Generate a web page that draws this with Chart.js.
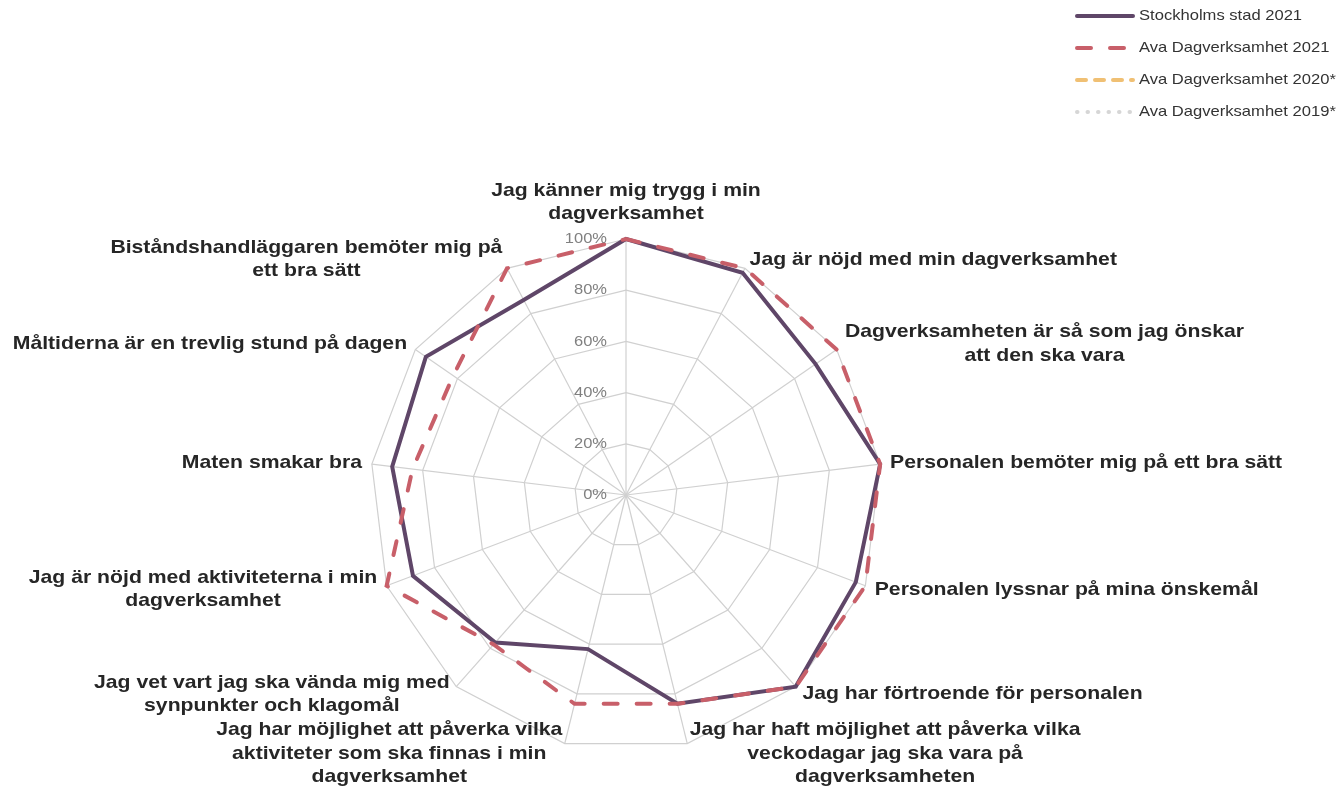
<!DOCTYPE html>
<html>
<head>
<meta charset="utf-8">
<script src="https://cdn.jsdelivr.net/npm/chart.js@4"></script>
<style>
  html, body { margin: 0; padding: 0; background: #fff; }
  #wrap { width: 1343px; height: 789px; position: relative; }
</style>
</head>
<body>
<div id="wrap"><canvas id="chart"></canvas></div>
<script>
// Categories (clockwise from the top), already wrapped as in the original
const categories = [
  ['Jag känner mig trygg i min', 'dagverksamhet'],
  ['Jag är nöjd med min dagverksamhet'],
  ['Dagverksamheten är så som jag önskar', 'att den ska vara'],
  ['Personalen bemöter mig på ett bra sätt'],
  ['Personalen lyssnar på mina önskemål'],
  ['Jag har förtroende för personalen'],
  ['Jag har haft möjlighet att påverka vilka', 'veckodagar jag ska vara på', 'dagverksamheten'],
  ['Jag har möjlighet att påverka vilka', 'aktiviteter som ska finnas i min', 'dagverksamhet'],
  ['Jag vet vart jag ska vända mig med', 'synpunkter och klagomål'],
  ['Jag är nöjd med aktiviteterna i min', 'dagverksamhet'],
  ['Maten smakar bra'],
  ['Måltiderna är en trevlig stund på dagen'],
  ['Biståndshandläggaren bemöter mig på', 'ett bra sätt']
];

// Share of positive answers, percent
const stockholm2021 = [100, 98, 90, 100, 96, 100, 84, 62, 77, 89, 92, 95, 86];
const ava2021 = [100, 100, 100, 100, 100, 100, 84, 84, 78, 100, 84, 82, 100];
// no results shown for these years
const ava2020 = [null, null, null, null, null, null, null, null, null, null, null, null, null];
const ava2019 = [null, null, null, null, null, null, null, null, null, null, null, null, null];

const tickMin = 0;
const tickMax = 100;
const tickStep = 20;

const FONT = "'Liberation Sans', Arial, sans-serif";

// the original text is a little wider than Arial, so stretch it sideways
function wideText(ctx, s, x, y, sx) {
  ctx.save();
  ctx.translate(x, y);
  ctx.scale(sx, 1);
  ctx.fillText(s, 0, 0);
  ctx.restore();
}

// Tick labels, wrapped point labels and the legend are painted here
const textPlugin = {
  id: 'texts',
  afterDraw(chart) {
    const ctx = chart.ctx;
    const r = chart.scales.r;
    ctx.save();

    // tick labels, left of the vertical axis
    ctx.font = '15px ' + FONT;
    ctx.fillStyle = '#808080';
    ctx.textAlign = 'right';
    ctx.textBaseline = 'middle';
    r.ticks.forEach(t => {
      const d = r.getDistanceFromCenterForValue(t.value);
      wideText(ctx, t.label, r.xCenter - 19, r.yCenter - d, 1.1);
    });

    // point labels
    const sx = 1.115;
    ctx.font = 'bold 19px ' + FONT;
    ctx.fillStyle = '#262626';
    ctx.textAlign = 'center';
    const lh = 23.5;
    chart.data.labels.forEach((lines, i) => {
      const p = r.getPointPosition(i, r.drawingArea + 10);
      const n = lines.length;
      const w = Math.max(...lines.map(s => ctx.measureText(s).width)) * sx;
      let cx, cy;
      if (Math.abs(p.x - r.xCenter) < 2) {
        cx = p.x;
        cy = p.y - 15 - (n - 1) * lh / 2;
      } else {
        cy = p.y;
        cx = p.x > r.xCenter ? p.x + w / 2 : p.x - w / 2;
      }
      lines.forEach((s, j) => {
        wideText(ctx, s, cx, cy + (j - (n - 1) / 2) * lh, sx);
      });
    });

    // legend
    ctx.font = '15px ' + FONT;
    ctx.fillStyle = '#333333';
    ctx.textAlign = 'left';
    const lx = chart.width - 266;
    chart.data.datasets.forEach((ds, i) => {
      const y = 16 + i * 32;
      ctx.beginPath();
      ctx.setLineDash(ds.borderDash || []);
      ctx.lineCap = 'round';
      ctx.lineWidth = ds.borderWidth;
      ctx.strokeStyle = ds.borderColor;
      ctx.moveTo(lx, y);
      ctx.lineTo(lx + 56, y);
      ctx.stroke();
      ctx.setLineDash([]);
      wideText(ctx, ds.label, lx + 62, y, 1.105);
    });
    ctx.restore();
  }
};

new Chart(document.getElementById('chart'), {
  type: 'radar',
  data: {
    labels: categories,
    datasets: [
      {
        label: 'Stockholms stad 2021',
        data: stockholm2021,
        borderColor: '#5f4668',
        borderWidth: 4,
        borderCapStyle: 'round',
        order: 1
      },
      {
        label: 'Ava Dagverksamhet 2021',
        data: ava2021,
        borderColor: '#c85f69',
        borderWidth: 4,
        borderDash: [14, 19],
        borderCapStyle: 'round',
        order: 0
      },
      {
        label: 'Ava Dagverksamhet 2020*',
        data: ava2020,
        borderColor: '#f0c074',
        borderWidth: 4,
        borderDash: [9, 9],
        borderCapStyle: 'round',
        order: 2
      },
      {
        label: 'Ava Dagverksamhet 2019*',
        data: ava2019,
        borderColor: '#d6d6d6',
        borderWidth: 4,
        borderDash: [0.5, 10],
        borderCapStyle: 'round',
        order: 3
      }
    ]
  },
  options: {
    responsive: true,
    maintainAspectRatio: false,
    animation: false,
    layout: {
      padding: { top: 239, bottom: 38, left: 370, right: 461 }
    },
    elements: {
      line: { tension: 0, fill: false },
      point: { radius: 0, hoverRadius: 0 }
    },
    scales: {
      r: {
        min: tickMin,
        max: tickMax,
        ticks: {
          display: false,
          stepSize: tickStep,
          callback: v => v + '%'
        },
        pointLabels: { display: false },
        grid: { color: '#d0d0d0', lineWidth: 1.2 },
        angleLines: { color: '#d0d0d0', lineWidth: 1.2 }
      }
    },
    plugins: {
      legend: { display: false },
      tooltip: { enabled: false }
    }
  },
  plugins: [textPlugin]
});
</script>
</body>
</html>
